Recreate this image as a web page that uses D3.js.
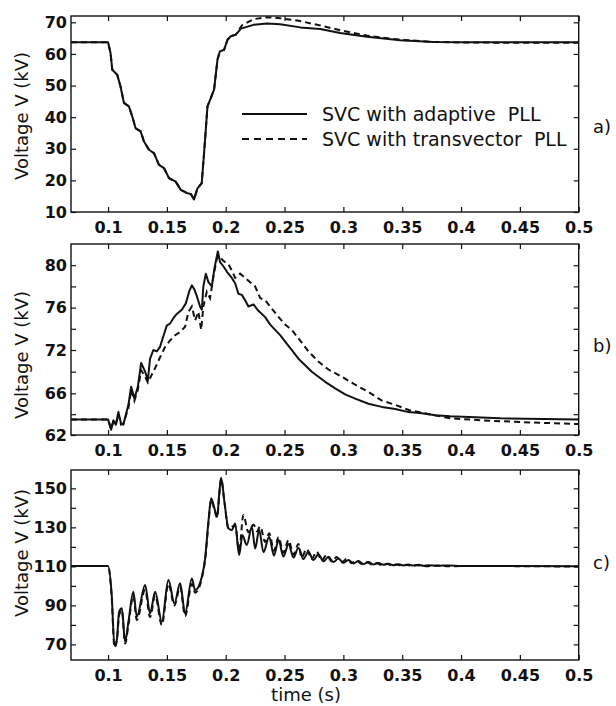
<!DOCTYPE html>
<html>
<head>
<meta charset="utf-8">
<script src="https://cdn.jsdelivr.net/npm/d3@7"></script>
<style>
  body { margin: 0; background: #fff; }
  svg { display: block; }
  .plain { font-family: "DejaVu Sans", sans-serif; font-size: 18px; fill: #111; white-space: pre; }
  .legend-text { font-size: 19px; }
</style>
</head>
<body>
<svg id="chart" width="616" height="706"></svg>
<script>
// time axis (shared by the three panels)
const TIME_DOMAIN = [0.0685, 0.5];
const TIME_TICKS = [0.1, 0.15, 0.2, 0.25, 0.3, 0.35, 0.4, 0.45, 0.5];
const TIME_LABELS = ["0.1", "0.15", "0.2", "0.25", "0.3", "0.35", "0.4", "0.45", "0.5"];

const SERIES_NAMES = ["SVC with adaptive  PLL", "SVC with transvector  PLL"];

// panel a) [time s, voltage kV]
const aAdaptive = [[0.0685,63.7],[0.1,63.7],[0.1021,60.3],[0.1036,55.0],[0.1078,53.4],[0.1106,49.7],[0.1135,44.5],[0.1177,43.4],[0.1206,40.2],[0.1234,36.5],[0.1277,35.5],[0.1305,32.3],[0.1348,29.7],[0.139,28.6],[0.1433,24.9],[0.1475,23.9],[0.1518,20.7],[0.1575,19.6],[0.1618,17.0],[0.1675,15.9],[0.1703,15.7],[0.1731,14.0],[0.176,17.5],[0.1796,19.1],[0.1816,28.6],[0.1845,43.4],[0.1873,46.0],[0.1901,48.7],[0.193,58.2],[0.195,60.8],[0.1986,61.3],[0.2015,64.5],[0.2043,65.6],[0.2086,66.1],[0.2129,68.0],[0.2236,69.2],[0.235,69.6],[0.2463,69.4],[0.2633,68.4],[0.2803,67.9],[0.2973,66.6],[0.32,65.4],[0.3483,64.3],[0.3764,63.8],[0.405,63.7],[0.5,63.7]];
const aTransvector = [[0.0685,63.7],[0.1,63.7],[0.1021,60.3],[0.1036,55.0],[0.1078,53.4],[0.1106,49.7],[0.1135,44.5],[0.1177,43.4],[0.1206,40.2],[0.1234,36.5],[0.1277,35.5],[0.1305,32.3],[0.1348,29.7],[0.139,28.6],[0.1433,24.9],[0.1475,23.9],[0.1518,20.7],[0.1575,19.6],[0.1618,17.0],[0.1675,15.9],[0.1703,15.7],[0.1731,14.0],[0.176,17.5],[0.1796,19.1],[0.1816,28.6],[0.1845,43.4],[0.1873,46.0],[0.1901,48.7],[0.193,58.2],[0.195,60.8],[0.1986,61.3],[0.2015,64.5],[0.2043,65.6],[0.2086,66.1],[0.2137,69.0],[0.2236,71.0],[0.235,71.6],[0.2463,71.3],[0.2633,70.4],[0.2803,69.0],[0.2973,67.5],[0.32,65.8],[0.3483,64.5],[0.3764,63.8],[0.405,63.6],[0.5,63.5]];

// panel b)
const bAdaptive = [[0.0685,63.5],[0.1,63.5],[0.1026,62.5],[0.1045,63.4],[0.1065,63.0],[0.1088,64.2],[0.111,63.1],[0.113,63.0],[0.1173,64.9],[0.1196,66.9],[0.1224,65.5],[0.1253,66.9],[0.1281,70.2],[0.1315,69.0],[0.1338,67.8],[0.1357,70.8],[0.1385,72.0],[0.1414,71.8],[0.1442,72.3],[0.147,73.3],[0.1499,74.3],[0.1527,74.5],[0.1555,75.0],[0.1584,75.4],[0.1627,75.8],[0.1661,76.4],[0.1689,77.5],[0.1712,78.1],[0.1734,77.7],[0.1754,77.1],[0.1782,76.1],[0.1797,75.8],[0.181,78.0],[0.1831,79.2],[0.1853,78.4],[0.1882,78.0],[0.1904,79.7],[0.1933,81.3],[0.1952,80.3],[0.198,79.9],[0.2009,79.4],[0.2052,78.8],[0.208,78.3],[0.2108,77.3],[0.2137,77.2],[0.2165,76.7],[0.2193,76.1],[0.2236,76.3],[0.2278,75.7],[0.2335,75.1],[0.2378,74.4],[0.242,73.9],[0.2463,73.4],[0.2505,72.8],[0.2562,72.0],[0.2618,70.8],[0.2675,69.9],[0.2732,69.0],[0.2788,68.3],[0.2845,67.6],[0.293,66.7],[0.3015,65.9],[0.31,65.5],[0.3213,65.0],[0.3327,64.7],[0.3441,64.5],[0.3554,64.2],[0.3668,64.1],[0.3781,63.9],[0.3908,63.8],[0.4333,63.6],[0.5,63.5]];
const bTransvector = [[0.0685,63.5],[0.1,63.5],[0.1026,62.6],[0.1045,63.3],[0.1065,62.9],[0.1088,64.0],[0.111,63.0],[0.113,63.1],[0.1173,64.6],[0.1196,66.5],[0.1224,65.3],[0.1253,66.5],[0.1281,69.2],[0.1315,68.3],[0.1338,67.5],[0.14,69.5],[0.1442,71.0],[0.1485,72.3],[0.1527,72.9],[0.157,73.4],[0.1612,73.7],[0.1655,74.2],[0.1683,75.6],[0.1712,76.1],[0.174,74.8],[0.1768,75.6],[0.1791,73.9],[0.181,76.1],[0.1839,77.5],[0.1867,76.9],[0.1895,78.9],[0.1924,80.6],[0.1944,80.9],[0.198,80.4],[0.2023,80.1],[0.2052,79.5],[0.208,78.8],[0.2122,79.2],[0.2165,78.8],[0.2207,78.4],[0.225,78.0],[0.2293,76.9],[0.2335,76.7],[0.2378,76.1],[0.2435,75.3],[0.2505,74.4],[0.2562,73.9],[0.2618,73.1],[0.2703,71.8],[0.2788,70.4],[0.2873,69.3],[0.2987,68.3],[0.31,67.2],[0.3213,66.2],[0.3327,65.3],[0.3441,64.9],[0.3554,64.4],[0.3908,63.6],[0.4189,63.4],[0.4614,63.2],[0.5,63.05]];

// panel c)
const cAdaptive = [[0.0685,110.2],[0.1,110.2],[0.1031,95.3],[0.1054,69.6],[0.1074,72.2],[0.1094,86.7],[0.1117,88.5],[0.1145,71.3],[0.1173,81.6],[0.1215,97.0],[0.1244,84.2],[0.1315,100.4],[0.1357,85.9],[0.14,97.0],[0.1457,81.6],[0.1513,103.0],[0.1564,91.0],[0.1612,101.3],[0.1655,85.9],[0.1712,103.8],[0.174,97.8],[0.1797,104.7],[0.1825,114.1],[0.1853,132.9],[0.1876,144.9],[0.1904,139.7],[0.1927,135.4],[0.1944,146.6],[0.1961,155.4],[0.1989,143.1],[0.2023,129.5],[0.2052,128.6],[0.208,132.0],[0.2114,115.8],[0.2142,126.0],[0.2179,120.9],[0.2222,130.3],[0.225,119.2],[0.2284,128.6],[0.2321,117.2],[0.2369,125.2],[0.241,115.5],[0.2449,123.5],[0.249,115.0],[0.2534,121.5],[0.2576,114.5],[0.2618,119.5],[0.266,113.8],[0.2703,117.5],[0.2745,113.2],[0.2788,116.2],[0.283,112.6],[0.2873,114.9],[0.2915,112.2],[0.2958,114.0],[0.3,111.8],[0.3043,113.3],[0.3085,111.5],[0.3128,112.7],[0.317,111.2],[0.3213,112.2],[0.3255,111.0],[0.3298,111.7],[0.334,110.8],[0.3383,111.3],[0.3425,110.6],[0.3468,111.1],[0.351,110.5],[0.3553,110.9],[0.3595,110.4],[0.3638,110.8],[0.368,110.3],[0.3723,110.6],[0.38,110.3],[0.39,110.5],[0.4,110.2],[0.5,110.1]];
const cTransvector = [[0.0685,110.2],[0.1,110.2],[0.1031,94.0],[0.1054,68.5],[0.1074,71.5],[0.1094,85.0],[0.1117,87.5],[0.1145,70.5],[0.1173,80.0],[0.1215,95.0],[0.1244,82.5],[0.1315,98.0],[0.1357,84.0],[0.14,95.0],[0.1457,80.0],[0.1513,101.0],[0.1564,90.0],[0.1612,99.5],[0.1655,84.5],[0.1712,101.0],[0.174,96.5],[0.1797,104.0],[0.1825,113.5],[0.1853,132.0],[0.1876,144.0],[0.1904,139.0],[0.1927,135.0],[0.1944,146.0],[0.1961,155.0],[0.1989,143.0],[0.2023,129.5],[0.208,131.0],[0.2114,118.0],[0.215,136.3],[0.2193,127.5],[0.2236,131.5],[0.2265,128.0],[0.2293,130.5],[0.2335,122.5],[0.237,127.0],[0.241,118.0],[0.2449,125.0],[0.249,117.0],[0.2534,123.5],[0.2576,116.0],[0.2618,121.5],[0.2645,114.5],[0.2688,119.0],[0.273,113.8],[0.2773,117.5],[0.2815,113.0],[0.2858,116.0],[0.29,112.5],[0.2943,114.8],[0.2985,112.0],[0.3028,113.8],[0.307,111.6],[0.3113,113.0],[0.3155,111.3],[0.3198,112.3],[0.324,111.0],[0.3283,111.7],[0.3325,110.7],[0.3368,111.3],[0.341,110.5],[0.3453,111.0],[0.3495,110.3],[0.3538,110.8],[0.358,110.2],[0.3623,110.6],[0.37,110.1],[0.38,110.4],[0.39,110.0],[0.4,110.2],[0.5,109.9]];

// y axes
const aTicks = [10, 20, 30, 40, 50, 60, 70];
const aLabels = [10, 20, 30, 40, 50, 60, 70];
const bTicks = [62, 64, 66, 69, 72, 74, 76, 78, 80];
const bLabels = [62, 66, 72, 76, 80];
const cTicks = [70, 80, 90, 100, 110, 120, 130, 140, 150];
const cLabels = [70, 90, 110, 130, 150];

const svg = d3.select("#chart");
const left = 71, right = 578.7;
const x = d3.scaleLinear().domain(TIME_DOMAIN).range([left, right]);

const panels = [
  { top: 16, h: 196, tag: "a)", tagY: 126, titleY: 116, data: [aAdaptive, aTransvector], ticks: aTicks, labels: aLabels,
    curve: d3.curveLinear, y: (h) => d3.scaleLinear().domain([10, 72]).range([h, 0]) },
  { top: 244, h: 191, tag: "b)", tagY: 345, titleY: 355, data: [bAdaptive, bTransvector], ticks: bTicks, labels: bLabels,
    curve: d3.curveLinear, y: (h) => d3.scaleLinear().domain([62, 66, 72, 82]).range([h, h * 0.782, h * 0.555, 0]) },
  { top: 470, h: 190, tag: "c)", tagY: 562, titleY: 553, data: [cAdaptive, cTransvector], ticks: cTicks, labels: cLabels,
    curve: d3.curveMonotoneX, y: (h) => d3.scaleLinear().domain([62, 159.4]).range([h, 0]) },
];

function styleAxis(g) {
  g.select(".domain").remove();
  g.selectAll(".tick line").attr("stroke", "#111").attr("stroke-width", 1.2);
  g.attr("font-family", "'DejaVu Sans', sans-serif").attr("font-size", 16).attr("font-weight", "bold");
  g.selectAll("text").attr("fill", "#111");
}

panels.forEach((p) => {
  const y = p.y(p.h);
  const g = svg.append("g").attr("transform", `translate(0,${p.top})`);

  g.append("g")
    .call(d3.axisLeft(y).tickValues(p.ticks).tickSize(-5).tickPadding(4)
      .tickFormat((d) => (p.labels.includes(d) ? String(d) : "")))
    .attr("transform", `translate(${left},0)`)
    .call(styleAxis);
  g.append("g")
    .call(d3.axisRight(y).tickValues(p.ticks).tickSize(-5).tickFormat(""))
    .attr("transform", `translate(${right},0)`)
    .call(styleAxis);
  g.append("g")
    .call(d3.axisBottom(x).tickValues(TIME_TICKS).tickSize(-5).tickPadding(10)
      .tickFormat((d, i) => TIME_LABELS[i]))
    .attr("transform", `translate(0,${p.h})`)
    .call(styleAxis);
  g.append("g")
    .call(d3.axisTop(x).tickValues(TIME_TICKS).tickSize(-5).tickFormat(""))
    .call(styleAxis);

  g.append("rect")
    .attr("x", left).attr("y", 0)
    .attr("width", right - left).attr("height", p.h)
    .attr("fill", "none").attr("stroke", "#111").attr("stroke-width", 1.4);

  const line = d3.line().curve(p.curve).x((d) => x(d[0])).y((d) => y(d[1]));
  g.append("path").datum(p.data[1])
    .attr("fill", "none").attr("stroke", "#111").attr("stroke-width", 2)
    .attr("stroke-dasharray", "6,4").attr("d", line);
  g.append("path").datum(p.data[0])
    .attr("fill", "none").attr("stroke", "#111").attr("stroke-width", 2)
    .attr("stroke-linejoin", "round").attr("d", line);

  svg.append("text").attr("class", "plain")
    .attr("transform", `translate(21,${p.titleY}) rotate(-90)`)
    .attr("text-anchor", "middle").attr("dominant-baseline", "central")
    .text("Voltage V (kV)");
  svg.append("text").attr("class", "plain")
    .attr("x", 593).attr("y", p.tagY).attr("dominant-baseline", "central")
    .text(p.tag);
});

// legend in panel a
const legend = svg.append("g");
SERIES_NAMES.forEach((name, i) => {
  const ly = 114 + i * 25;
  legend.append("line")
    .attr("x1", 242).attr("x2", 307).attr("y1", ly).attr("y2", ly)
    .attr("stroke", "#111").attr("stroke-width", 2)
    .attr("stroke-dasharray", i === 1 ? "7,5" : null);
  legend.append("text").attr("class", "plain legend-text")
    .attr("x", 322).attr("y", ly).attr("dominant-baseline", "central")
    .text(name);
});

svg.append("text").attr("class", "plain")
  .attr("x", 306).attr("y", 701).attr("text-anchor", "middle")
  .text("time (s)");
</script>
</body>
</html>
